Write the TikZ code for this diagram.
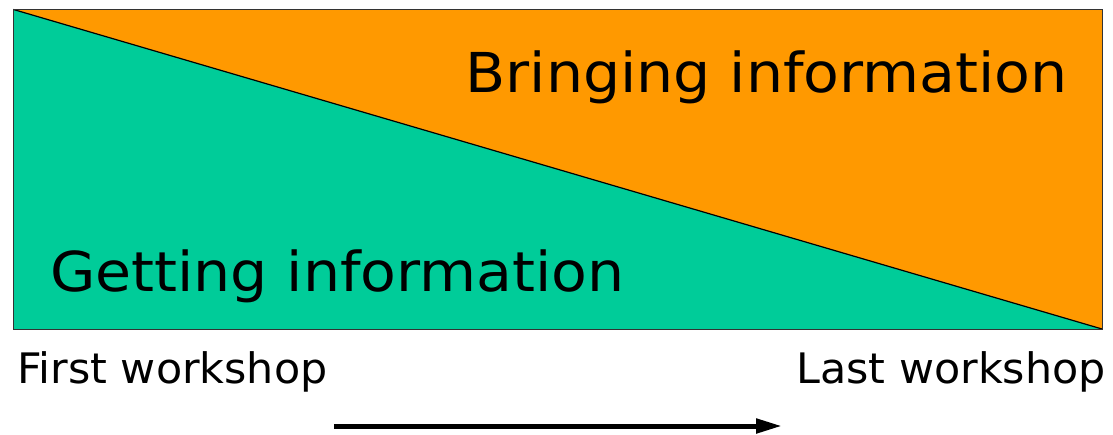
\documentclass[tikz,border=0pt]{standalone}
\usepackage{fontspec}
\setmainfont{DejaVu Sans}
\newfontfamily\bigfont[FakeStretch=1.065]{DejaVu Sans}
\newfontfamily\smallfont[FakeStretch=1.02]{DejaVu Sans}
\usetikzlibrary{arrows.meta}
\definecolor{greenfill}{HTML}{00CC99}
\definecolor{orangefill}{HTML}{FF9900}
\tikzset{
  bigtext/.style={inner sep=0pt, font=\bigfont\fontsize{55}{56}\selectfont},
  smalltext/.style={inner sep=0pt, font=\smallfont\fontsize{42}{44}\selectfont},
}
\begin{document}
\begin{tikzpicture}[x=1pt,y=-1pt]
\useasboundingbox (0,0) rectangle (1113,434);
\coordinate (tl) at (13.5,9.5);
\coordinate (tr) at (1102,9.5);
\coordinate (br) at (1102,329);
\coordinate (bl) at (13.5,329);
\fill[orangefill] (tl) -- (tr) -- (br) -- cycle;
\fill[greenfill] (tl) -- (br) -- (bl) -- cycle;
\draw[black, line width=1.2pt] (tl) -- (br);
\draw[black!80, line width=1pt] (tl) rectangle (br);
\node[bigtext, anchor=base east] (bring) at (1068,92) {Bringing information};
\node[bigtext, anchor=base west] (get) at (50,291) {Getting information};
\node[smalltext, anchor=base west] (first) at (17,383) {First workshop};
\node[smalltext, anchor=base east] (last) at (1106,383) {Last workshop};
\coordinate (a1) at (334,426);
\coordinate (a2) at (782,426);
\draw[line width=5pt, -{Triangle[length=26pt, width=14pt]}] (a1) -- (a2);
\end{tikzpicture}
\end{document}
